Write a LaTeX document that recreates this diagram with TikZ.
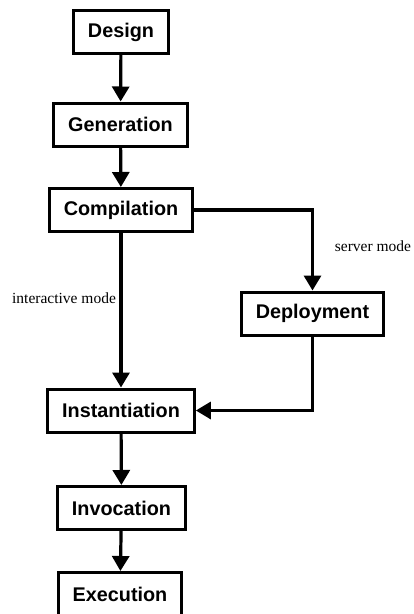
\documentclass[tikz,border=0pt]{standalone}
\usepackage{fontspec}
\setmainfont{Liberation Serif}
\setsansfont{Liberation Sans}
\usetikzlibrary{arrows.meta, positioning}

\begin{document}
\begin{tikzpicture}[
  stage/.style={draw, line width=3pt, minimum height=43pt, inner xsep=14.5pt,
    font=\sffamily\bfseries\fontsize{19.8}{22}\selectfont},
  flow/.style={line width=3.2pt, -{Triangle[length=15pt, width=17pt]}},
  modelabel/.style={font=\fontsize{15.5}{17}\selectfont}
]
\useasboundingbox (0,0) rectangle (413pt,-614pt);

% main pipeline
\node[stage] (design)        at (121pt,-32pt)    {Design};
\node[stage] (generation)    at (120.5pt,-124.5pt) {Generation};
\node[stage] (compilation)   at (121pt,-210pt)   {Compilation};
\node[stage] (deployment)    at (312.5pt,-313.5pt) {Deployment};
\node[stage] (instantiation) at (121pt,-410.5pt) {Instantiation};
\node[stage] (invocation)    at (121.5pt,-508pt) {Invocation};
\node[stage] (execution)     at (120pt,-594pt)   {Execution};

\draw[flow] (design) -- (generation);
\draw[flow] (generation) -- (compilation);
\draw[flow] (compilation) -- (instantiation);
\draw[flow] (compilation.east) -| (deployment.north);
\draw[flow] (deployment.south) |- (instantiation.east);
\draw[flow] (instantiation) -- (invocation);
\draw[flow] (invocation) -- (execution);

% mode labels
\node[modelabel] (interactive) at (64pt,-298pt)  {interactive mode};
\node[modelabel] (server)      at (373pt,-246pt) {server mode};
\end{tikzpicture}
\end{document}
